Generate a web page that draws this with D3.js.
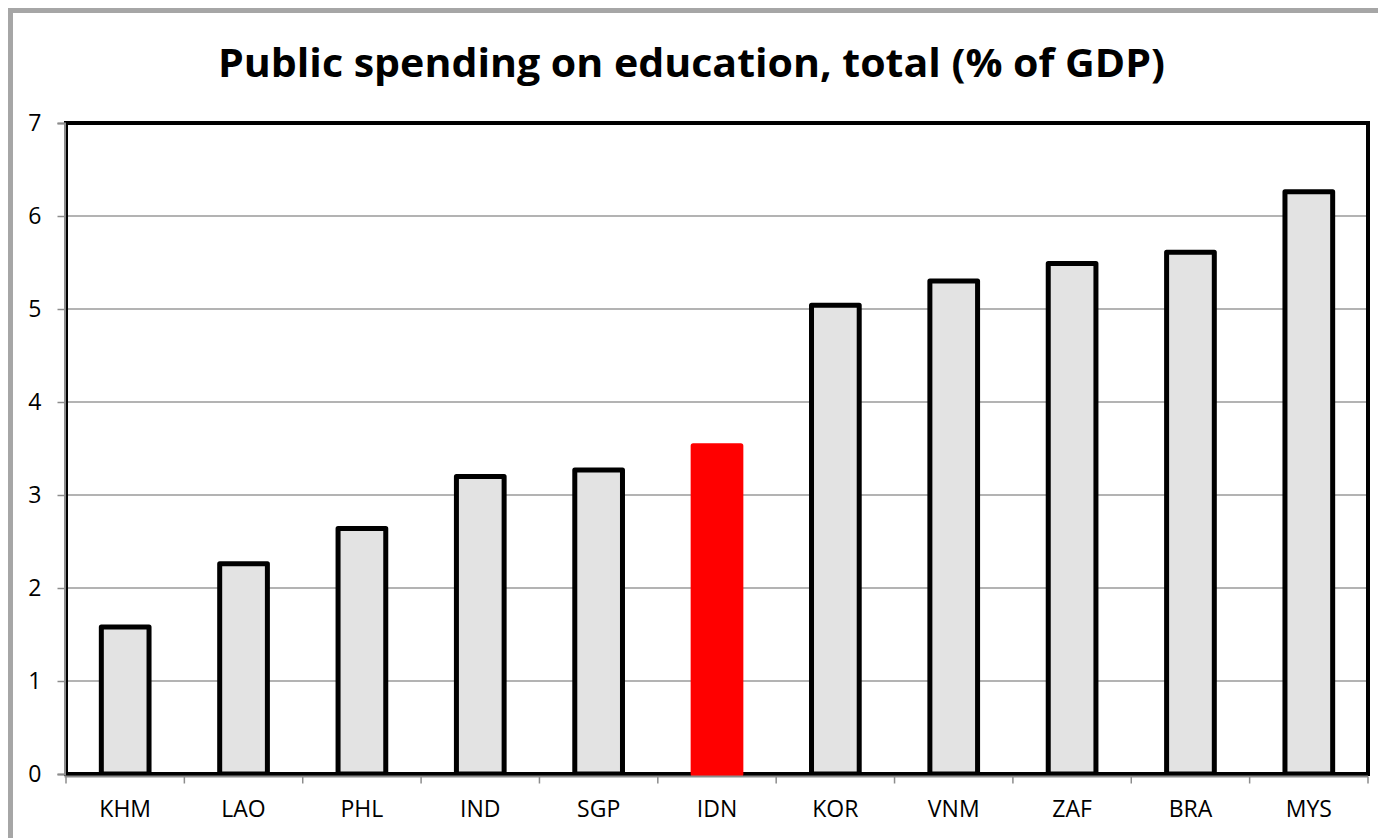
<!DOCTYPE html>
<html>
<head>
<meta charset="utf-8">
<script src="https://cdn.jsdelivr.net/npm/d3@7"></script>
<style>
  html, body { margin: 0; padding: 0; background: #fff; }
  svg { display: block; }
  text { font-family: "Open Sans", "Noto Sans", sans-serif; fill: #000; }
</style>
</head>
<body>
<svg id="chart" width="1378" height="838"></svg>
<script>
// Public spending on education, total (% of GDP), by country
const countries = ["KHM", "LAO", "PHL", "IND", "SGP", "IDN", "KOR", "VNM", "ZAF", "BRA", "MYS"];
const spending = [1.58, 2.26, 2.64, 3.20, 3.27, 3.53, 5.04, 5.30, 5.49, 5.61, 6.26];
const highlight = ["IDN"];
const yTicks = [0, 1, 2, 3, 4, 5, 6, 7];
const title = "Public spending on education, total (% of GDP)";

const svg = d3.select("#chart");
const W = 1378, H = 838;
const plot = { left: 66, right: 1368, top: 123, bottom: 774 };

// outer frame of the chart
svg.append("rect")
  .attr("x", 10.5).attr("y", 10.5)
  .attr("width", W + 40).attr("height", H + 40)
  .attr("fill", "none")
  .attr("stroke", "#a6a6a6")
  .attr("stroke-width", 5);

// title
svg.append("text")
  .attr("x", 691.5).attr("y", 77)
  .attr("text-anchor", "middle")
  .style("font-weight", "bold")
  .style("font-size", "40px")
  .attr("textLength", 947)
  .attr("lengthAdjust", "spacingAndGlyphs")
  .text(title);

const x = d3.scaleBand()
  .domain(countries)
  .range([plot.left, plot.right])
  .paddingInner(0.597)
  .paddingOuter(0.2985);

const y = d3.scaleLinear()
  .domain([0, 7])
  .range([plot.bottom, plot.top]);

// horizontal gridlines
svg.append("g")
  .selectAll("line")
  .data(yTicks.filter(t => t > 0 && t < 7))
  .join("line")
  .attr("x1", plot.left).attr("x2", plot.right)
  .attr("y1", d => y(d)).attr("y2", d => y(d))
  .attr("stroke", "#9a9a9a")
  .attr("stroke-width", 1.3);

// plot area border
svg.append("rect")
  .attr("x", plot.left).attr("y", plot.top)
  .attr("width", plot.right - plot.left)
  .attr("height", plot.bottom - plot.top)
  .attr("fill", "none")
  .attr("stroke", "#000")
  .attr("stroke-width", 4);

// bars
svg.append("g")
  .selectAll("rect")
  .data(countries.map((c, i) => ({ c, v: spending[i] })))
  .join("rect")
  .attr("x", d => x(d.c))
  .attr("width", x.bandwidth())
  .attr("y", d => y(d.v))
  .attr("height", d => y(0) - y(d.v))
  .attr("fill", d => highlight.includes(d.c) ? "#ff0000" : "#e3e3e3")
  .attr("stroke", d => highlight.includes(d.c) ? "#ff0000" : "#000")
  .attr("stroke-width", 5)
  .attr("stroke-linejoin", "round");

// y axis
const yAxis = d3.axisLeft(y)
  .tickValues(yTicks)
  .tickSize(7)
  .tickPadding(16)
  .tickFormat(d3.format("d"));
const gy = svg.append("g")
  .attr("transform", `translate(${plot.left - 1.5},0)`)
  .call(yAxis);
gy.select(".domain").attr("stroke", "#8c8c8c").attr("stroke-width", 2);
gy.selectAll(".tick line").attr("stroke", "#8c8c8c").attr("stroke-width", 1.5);
gy.selectAll(".tick text")
  .style("font-size", "23px")
  .attr("fill", "#000");

// x axis with ticks between categories
const gx = svg.append("g")
  .attr("transform", `translate(0,${plot.bottom + 2.5})`);
gx.append("line")
  .attr("x1", plot.left - 1.5).attr("x2", plot.right)
  .attr("stroke", "#8c8c8c").attr("stroke-width", 2);
const boundaries = countries.map(c => x(c) - x.step() * x.paddingInner() / 2)
  .concat([plot.right]);
gx.selectAll("line.tk")
  .data(boundaries)
  .join("line")
  .attr("class", "tk")
  .attr("x1", d => d).attr("x2", d => d)
  .attr("y1", 0).attr("y2", 7)
  .attr("stroke", "#8c8c8c").attr("stroke-width", 1.5);
gx.selectAll("text")
  .data(countries)
  .join("text")
  .attr("x", d => x(d) + x.bandwidth() / 2)
  .attr("y", 40.5)
  .attr("text-anchor", "middle")
  .style("font-size", "23px")
  .text(d => d);
</script>
</body>
</html>
